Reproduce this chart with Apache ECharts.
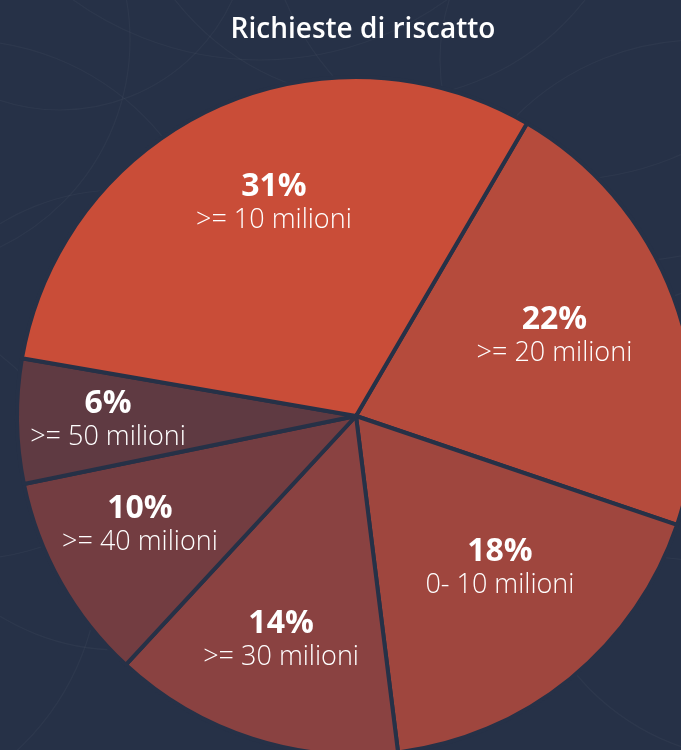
<!DOCTYPE html>
<html><head><meta charset="utf-8">
<script src="https://cdn.jsdelivr.net/npm/echarts@6/dist/echarts.min.js"></script>
<style>html,body{margin:0;padding:0;background:#263147;}#c{width:681px;height:750px;}</style>
</head><body><div id="c"></div>
<script>
const title = 'Richieste di riscatto';
const categories = ['>= 20 milioni', '0- 10 milioni', '>= 30 milioni', '>= 40 milioni', '>= 50 milioni', '>= 10 milioni'];
const values = [22, 18, 14, 10, 6, 31];
const colors = ['#B54B3C', '#9F463E', '#8A4241', '#733D41', '#5F3A42', '#C94D38'];
// label ring groups (which labels sit on which ring)
const ringNear = ['>= 20 milioni', '0- 10 milioni'];
const ringMid = ['>= 10 milioni', '>= 30 milioni'];
const ringFar = ['>= 40 milioni', '>= 50 milioni'];
// small per-label nudges through padding [top, right, bottom, left]
const labelPadding = {
  '0- 10 milioni': [0, 0, 30, 16], '>= 40 milioni': [0, 0, 26, 0], '>= 20 milioni': [0, 6, 10, 0],
  '>= 10 milioni': [0, 0, 0, 34], '>= 30 milioni': [0, 6, 0, 0]
};

const BG = '#263147';
const center = [356, 416];
const startAngle = 59.7;
const font = '"Open Sans", Lato, sans-serif';

const data = categories.map((n, i) => ({ name: n, value: values[i], itemStyle: { color: colors[i] } }));

function labelSeries(radius, shown) {
  return {
    type: 'pie', silent: true, center, radius: [0, radius], startAngle,
    clockwise: true, z: 5,
    itemStyle: { color: 'rgba(0,0,0,0)', borderWidth: 0 },
    labelLine: { show: false },
    emphasis: { disabled: true },
    data: categories.map((n, i) => ({
      name: n, value: values[i],
      label: { show: shown.includes(n), padding: labelPadding[n] || 0 }
    })),
    label: {
      position: 'inside',
      formatter: p => '{p|' + p.value + '%}\n{n|' + p.name + '}',
      rich: {
        p: { color: '#fff', fontFamily: font, fontWeight: 'bold', fontSize: 32, lineHeight: 35, align: 'center' },
        n: { color: '#fff', fontFamily: font, fontWeight: 300, fontSize: 27, lineHeight: 32, align: 'center' }
      }
    }
  };
}

// faint decorative background arcs
const deco = [];
[[60, -80, 190], [120, 420, 230], [-40, 300, 260], [640, 60, 200], [700, 300, 260], [380, -160, 260],
 [-100, 40, 230], [560, -120, 300], [260, -260, 320], [760, 520, 240], [-160, 560, 260]].forEach(c => {
  deco.push({ type: 'circle', z: -10, silent: true, shape: { cx: c[0], cy: c[1], r: c[2] },
    style: { fill: 'none', stroke: 'rgba(255,255,255,0.035)', lineWidth: 1.2 } });
});

const chart = echarts.init(document.getElementById('c'), null, { renderer: 'canvas' });
chart.setOption({
  backgroundColor: BG,
  animation: false,
  graphic: deco,
  title: {
    text: title, left: 358, top: 11, textAlign: 'center',
    textStyle: { color: '#fff', fontFamily: font, fontWeight: 600, fontSize: 28 }
  },
  series: [
    {
      type: 'pie', center, radius: [0, 339], startAngle, clockwise: true,
      label: { show: false }, labelLine: { show: false },
      emphasis: { disabled: true },
      itemStyle: { borderColor: BG, borderWidth: 4 },
      data
    },
    labelSeries(424, ringNear),
    labelSeries(464, ringMid),
    labelSeries(490, ringFar)
  ]
});
</script></body></html>
